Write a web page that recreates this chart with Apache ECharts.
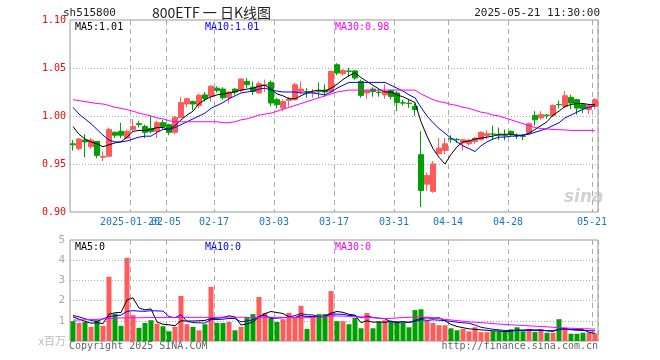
<!DOCTYPE html>
<html><head><meta charset="utf-8">
<script src="https://cdn.jsdelivr.net/npm/echarts@6/dist/echarts.min.js"></script>
<style>html,body{margin:0;padding:0;background:#fff}#c{width:660px;height:360px}</style>
</head><body><div id="c"></div>
<script>
const dates = ['2025-01-06','2025-01-07','2025-01-08','2025-01-09','2025-01-10','2025-01-13','2025-01-14','2025-01-15','2025-01-16','2025-01-17','2025-01-20','2025-01-21','2025-01-22','2025-01-23','2025-01-24','2025-01-27','2025-02-05','2025-02-06','2025-02-07','2025-02-10','2025-02-11','2025-02-12','2025-02-13','2025-02-14','2025-02-17','2025-02-18','2025-02-19','2025-02-20','2025-02-21','2025-02-24','2025-02-25','2025-02-26','2025-02-27','2025-02-28','2025-03-03','2025-03-04','2025-03-05','2025-03-06','2025-03-07','2025-03-10','2025-03-11','2025-03-12','2025-03-13','2025-03-14','2025-03-17','2025-03-18','2025-03-19','2025-03-20','2025-03-21','2025-03-24','2025-03-25','2025-03-26','2025-03-27','2025-03-28','2025-03-31','2025-04-01','2025-04-02','2025-04-03','2025-04-07','2025-04-08','2025-04-09','2025-04-10','2025-04-11','2025-04-14','2025-04-15','2025-04-16','2025-04-17','2025-04-18','2025-04-21','2025-04-22','2025-04-23','2025-04-24','2025-04-25','2025-04-28','2025-04-29','2025-04-30','2025-05-06','2025-05-07','2025-05-08','2025-05-09','2025-05-12','2025-05-13','2025-05-14','2025-05-15','2025-05-16','2025-05-19','2025-05-20','2025-05-21'];

const tickIndex = [10, 16, 24, 34, 44, 54, 63, 73, 87];
const tickText  = ['2025-01-20', '02-05', '02-17', '03-03', '03-17', '03-31', '04-14', '04-28', '05-21'];
const overlapTickIndex = [16];

const opens = [0.971,0.966,0.975,0.968,0.9735,0.957,0.958,0.983,0.984,0.977,
0.986,0.992,0.989,0.987,0.984,0.993,0.991,0.983,0.9985,1.0125,
1.015,1.011,1.022,1.0205,1.029,1.028,1.0194,1.028,1.0267,1.036,
1.030,1.024,1.032,1.035,1.017,1.0083,1.0163,1.017,1.0256,1.0256,
1.0244,1.0258,1.027,1.0256,1.0534,1.044,1.0468,1.047,1.036,1.024,
1.028,1.0248,1.022,1.0267,1.024,1.0137,1.0133,1.010,0.9597,0.929,
0.9215,0.9607,0.964,0.9762,0.9755,0.972,0.971,0.9735,0.9753,0.9795,
0.9813,0.9803,0.9798,0.984,0.9798,0.9791,0.9823,1.0006,0.998,1.0009,
1.0006,1.0121,1.010,1.0194,1.017,1.0118,1.0066,1.010];

const closes = [0.970,0.976,0.973,0.975,0.959,0.958,0.986,0.980,0.980,0.984,
0.989,0.991,0.983,0.984,0.993,0.989,0.983,0.9985,1.014,1.018,
1.0125,1.0215,1.018,1.031,1.0267,1.019,1.025,1.025,1.0385,1.0326,
1.0256,1.0336,1.0326,1.0135,1.0118,1.015,1.0177,1.0326,1.028,1.025,
1.0248,1.0254,1.025,1.0465,1.0448,1.0475,1.0465,1.0396,1.0215,1.0264,
1.0256,1.0246,1.0256,1.0204,1.014,1.0135,1.013,1.0066,0.9225,0.938,
0.950,0.9665,0.971,0.976,0.9753,0.9753,0.9746,0.977,0.983,0.9815,
0.981,0.980,0.9795,0.9805,0.9795,0.9788,0.992,0.996,1.0014,1.0006,
1.011,1.0118,1.0211,1.0135,1.0083,1.0076,1.011,1.017];

const lows = [0.964,0.964,0.957,0.966,0.956,0.953,0.957,0.977,0.977,0.976,
0.984,0.988,0.977,0.982,0.977,0.986,0.980,0.981,0.998,1.009,
1.006,1.008,1.015,1.015,1.0245,1.017,1.013,1.022,1.025,1.029,
1.022,1.0233,1.025,1.010,1.008,1.0048,1.010,1.016,1.0225,1.019,
1.019,1.019,1.020,1.024,1.0426,1.042,1.041,1.038,1.019,1.018,
1.020,1.020,1.018,1.0174,1.005,1.011,1.0085,1.0003,0.905,0.922,
0.920,0.9607,0.960,0.972,0.972,0.964,0.969,0.971,0.9745,0.976,
0.9753,0.975,0.9745,0.9795,0.976,0.975,0.981,0.990,0.9965,0.997,
0.999,1.008,1.008,1.007,1.0014,1.003,1.002,1.007];

const highs = [0.975,0.977,0.981,0.977,0.974,0.963,0.988,0.984,0.993,0.986,
0.997,0.995,0.991,1.000,0.995,0.996,0.992,1.000,1.020,1.019,
1.016,1.0235,1.025,1.032,1.031,1.030,1.026,1.029,1.039,1.0396,
1.036,1.036,1.038,1.037,1.019,1.017,1.020,1.0345,1.036,1.029,
1.028,1.035,1.033,1.0475,1.055,1.049,1.050,1.048,1.038,1.027,
1.030,1.028,1.033,1.027,1.026,1.017,1.017,1.013,0.984,0.941,
0.953,0.977,0.977,0.980,0.977,0.976,0.976,0.978,0.984,0.985,
0.990,0.988,0.986,0.985,0.982,0.981,0.993,1.005,1.005,1.002,
1.012,1.016,1.026,1.022,1.018,1.013,1.0125,1.0188];

const ma5 = [0.989,0.981,0.976,0.973,0.971,0.968,0.970,0.972,0.973,0.978,
0.984,0.985,0.985,0.986,0.988,0.988,0.986,0.990,0.996,1.001,
1.005,1.013,1.017,1.020,1.022,1.023,1.024,1.025,1.027,1.028,
1.029,1.031,1.032,1.028,1.023,1.021,1.018,1.018,1.021,1.024,
1.026,1.027,1.026,1.029,1.033,1.038,1.042,1.045,1.040,1.036,
1.032,1.028,1.025,1.025,1.022,1.020,1.017,1.014,0.994,0.979,
0.966,0.957,0.950,0.960,0.968,0.973,0.974,0.976,0.977,0.978,
0.979,0.981,0.981,0.981,0.980,0.980,0.982,0.986,0.990,0.994,
1.001,1.005,1.010,1.012,1.013,1.013,1.012,1.012];

const ma10 = [1.009,1.002,0.997,0.992,0.986,0.980,0.975,0.973,0.973,0.974,
0.976,0.978,0.979,0.979,0.983,0.986,0.986,0.988,0.991,0.994,
0.997,1.000,1.003,1.008,1.011,1.014,1.018,1.021,1.024,1.025,
1.026,1.028,1.029,1.027,1.026,1.025,1.025,1.025,1.024,1.024,
1.024,1.023,1.022,1.025,1.029,1.032,1.035,1.035,1.035,1.035,
1.035,1.035,1.035,1.032,1.029,1.026,1.022,1.019,1.009,1.000,
0.993,0.987,0.982,0.977,0.973,0.969,0.966,0.963,0.969,0.973,
0.976,0.978,0.978,0.979,0.979,0.980,0.981,0.983,0.985,0.987,
0.990,0.993,0.998,1.001,1.004,1.007,1.009,1.011];

const ma30 = [1.017,1.016,1.015,1.014,1.013,1.0125,1.011,1.009,1.008,1.0066,
1.005,1.003,1.0015,1.000,0.998,0.997,0.995,0.994,0.994,0.994,
0.994,0.994,0.994,0.994,0.994,0.993,0.993,0.994,0.996,0.997,
0.999,1.001,1.002,1.003,1.005,1.007,1.009,1.011,1.013,1.015,
1.017,1.019,1.021,1.023,1.025,1.026,1.027,1.027,1.027,1.027,
1.027,1.027,1.027,1.027,1.027,1.027,1.027,1.027,1.023,1.020,
1.017,1.015,1.014,1.012,1.011,1.009,1.008,1.006,1.004,1.003,
1.001,1.000,0.998,0.996,0.994,0.992,0.990,0.988,0.987,0.9865,
0.986,0.9857,0.9855,0.985,0.985,0.985,0.985,0.9847];

const volumes = [0.98,0.89,0.94,0.70,1.03,0.75,3.18,1.35,0.75,4.12,
1.28,0.65,0.89,1.03,0.86,0.73,0.48,0.70,2.23,0.83,
0.70,0.53,0.83,2.68,0.89,0.89,0.94,0.53,0.70,1.19,
1.33,2.18,1.39,1.19,0.94,1.08,1.39,1.19,1.74,0.60,
1.19,1.33,1.33,2.47,0.98,0.98,0.83,1.15,0.63,1.39,
0.63,0.94,1.03,0.98,0.94,0.91,0.68,1.53,1.57,1.00,
0.89,0.78,0.78,0.63,0.53,0.60,0.48,0.68,0.44,0.44,
0.48,0.48,0.48,0.58,0.68,0.48,0.58,0.44,0.58,0.41,
0.41,1.08,0.61,0.36,0.36,0.41,0.41,0.38];

const vma5 = [1.20,1.08,0.98,0.88,0.91,0.86,1.32,1.40,1.41,2.03,
2.14,1.63,1.54,1.59,0.94,0.83,0.80,0.76,1.00,0.99,
0.99,1.00,1.02,1.11,1.13,1.16,1.25,1.19,0.79,0.85,
0.94,1.19,1.36,1.46,1.41,1.36,1.20,1.16,1.27,1.20,
1.22,1.21,1.24,1.38,1.46,1.42,1.32,1.28,0.91,1.00,
0.93,0.95,0.92,0.99,0.90,0.96,0.91,1.01,1.13,1.14,
1.13,1.15,1.00,0.82,0.72,0.66,0.60,0.58,0.55,0.53,
0.50,0.50,0.46,0.49,0.54,0.54,0.56,0.55,0.55,0.50,
0.48,0.58,0.62,0.57,0.56,0.56,0.43,0.38];

const vma10 = [1.26,1.20,1.10,1.02,0.96,1.10,1.20,1.25,1.28,1.47,
1.50,1.48,1.47,1.50,1.49,1.48,1.21,1.15,1.30,0.97,
0.91,0.90,0.89,1.06,1.06,1.08,1.12,1.11,0.95,0.99,
1.05,1.22,1.27,1.12,1.13,1.15,1.19,1.26,1.36,1.30,
1.29,1.20,1.20,1.33,1.33,1.32,1.26,1.26,1.15,1.23,
1.17,1.13,1.10,0.95,0.95,0.94,0.93,0.97,1.06,1.02,
1.05,1.03,1.01,0.97,0.93,0.90,0.88,0.79,0.68,0.63,
0.58,0.55,0.52,0.52,0.53,0.52,0.53,0.51,0.52,0.52,
0.51,0.57,0.59,0.56,0.53,0.52,0.51,0.50];

const vma30 = [1.03,1.04,1.05,1.06,1.07,1.09,1.11,1.13,1.14,1.15,
1.15,1.15,1.16,1.16,1.16,1.16,1.16,1.16,1.17,1.17,
1.17,1.17,1.17,1.17,1.17,1.18,1.18,1.18,1.18,1.17,
1.15,1.17,1.18,1.18,1.17,1.17,1.16,1.16,1.15,1.15,
1.17,1.19,1.22,1.24,1.24,1.23,1.22,1.20,1.19,1.18,
1.15,1.13,1.11,1.12,1.14,1.16,1.17,1.19,1.19,1.18,
1.15,1.11,1.07,1.04,1.01,0.98,0.95,0.93,0.91,0.89,
0.86,0.84,0.82,0.80,0.78,0.77,0.75,0.73,0.72,0.70,
0.68,0.66,0.65,0.63,0.62,0.61,0.60,0.59];

const UP = '#ff5b5b', DOWN = '#00a000';
const MONO = 'DejaVu Sans Mono';
const GRID_L = 70, GRID_W = 528;

const chart = echarts.init(document.getElementById('c'), null, {renderer: 'canvas'});
const candleData = dates.map((d, i) => [opens[i], closes[i], lows[i], highs[i]]);
const volData = volumes.map((v, i) => ({value: v, itemStyle: {color: closes[i] > opens[i] ? UP : DOWN}}));
const showTick = (idx) => tickIndex.indexOf(idx) >= 0;
const labelText = (idx) => tickText[tickIndex.indexOf(idx)] || '';

const splitX = {show: true, interval: (idx) => showTick(idx), lineStyle: {color: '#aaa', type: [5, 4], width: 1}};
const splitY = {show: true, showMinLine: false, showMaxLine: false, lineStyle: {color: '#aaa', type: [1, 2], width: 1}};
const xLabelStyle = {color: '#1a78c2', fontFamily: MONO, fontSize: 10, margin: 5, padding: [0, 6, 0, 0], hideOverlap: false};

function maLine(name, data, color, xi, yi) {
  return {name, type: 'line', data, xAxisIndex: xi, yAxisIndex: yi, symbol: 'none', smooth: false,
    lineStyle: {color, width: 1}, itemStyle: {color}, z: 5, silent: true};
}

function txt(x, y, text, color, opts) {
  return {type: 'text', x, y, style: Object.assign({text, fill: color, font: '10px "' + MONO + '"', textAlign: 'left', textVerticalAlign: 'middle'}, opts || {})};
}

chart.setOption({
  animation: false,
  backgroundColor: '#fff',
  grid: [
    {left: GRID_L, top: 20, width: GRID_W, height: 192, show: true, borderColor: '#999', borderWidth: 1, backgroundColor: 'transparent'},
    {left: GRID_L, top: 240, width: GRID_W, height: 101, show: true, borderColor: '#999', borderWidth: 1, backgroundColor: 'transparent'}
  ],
  xAxis: [
    {type: 'category', data: dates, gridIndex: 0, boundaryGap: true, position: 'bottom',
      axisLine: {show: false}, axisTick: {show: false},
      axisLabel: Object.assign({show: true, interval: (idx) => showTick(idx) && overlapTickIndex.indexOf(idx) < 0,
        formatter: (v, idx) => labelText(idx)}, xLabelStyle),
      splitLine: splitX},
    {type: 'category', data: dates, gridIndex: 1, boundaryGap: true,
      axisLine: {show: false}, axisTick: {show: false}, axisLabel: {show: false},
      splitLine: splitX},
    {type: 'category', data: dates, gridIndex: 0, boundaryGap: true, position: 'bottom', offset: 0,
      axisLine: {show: false}, axisTick: {show: false},
      axisLabel: Object.assign({show: true, interval: (idx) => overlapTickIndex.indexOf(idx) >= 0,
        formatter: (v, idx) => labelText(idx)}, xLabelStyle),
      splitLine: {show: false}}
  ],
  yAxis: [
    {type: 'value', gridIndex: 0, min: 0.9, max: 1.1, interval: 0.05, scale: false,
      axisLine: {show: false}, axisTick: {show: false},
      axisLabel: {color: '#ff0000', fontFamily: MONO, fontSize: 10, margin: 4, formatter: (v) => v.toFixed(2)},
      splitLine: splitY},
    {type: 'value', gridIndex: 1, min: 0, max: 5, interval: 1,
      axisLine: {show: false}, axisTick: {show: false},
      axisLabel: {color: '#aaa', fontFamily: MONO, fontSize: 11, margin: 5, formatter: (v) => v === 0 ? '' : String(v)},
      splitLine: splitY}
  ],
  series: [
    {name: 'K', type: 'candlestick', data: candleData, xAxisIndex: 0, yAxisIndex: 0, barWidth: 5,
      itemStyle: {color: UP, color0: DOWN, borderColor: UP, borderColor0: DOWN, borderWidth: 1}, z: 3, silent: true},
    maLine('MA5', ma5, '#000000', 0, 0),
    maLine('MA10', ma10, '#0000ff', 0, 0),
    maLine('MA30', ma30, '#ff00ff', 0, 0),
    {name: 'VOL', type: 'bar', data: volData, xAxisIndex: 1, yAxisIndex: 1, barWidth: 5, z: 3, silent: true},
    maLine('VMA5', vma5, '#000000', 1, 1),
    maLine('VMA10', vma10, '#0000ff', 1, 1),
    maLine('VMA30', vma30, '#ff00ff', 1, 1)
  ],
  graphic: [
    txt(63, 13, 'sh515800', '#222', {font: '11px "' + MONO + '"'}),
    txt(152, 13, '800ETF 一 日K线图', '#222', {font: '14px "Noto Sans CJK SC"'}),
    txt(600, 13, '2025-05-21 11:30:00', '#222', {font: '11px "' + MONO + '"', textAlign: 'right'}),
    txt(75, 27, 'MA5:' + ma5[ma5.length - 1].toFixed(2), '#000'),
    txt(205, 27, 'MA10:' + ma10[ma10.length - 1].toFixed(2), '#0000ff'),
    txt(335, 27, 'MA30:' + ma30[ma30.length - 1].toFixed(2), '#ff00ff'),
    txt(75, 247, 'MA5:0', '#000'),
    txt(205, 247, 'MA10:0', '#0000ff'),
    txt(335, 247, 'MA30:0', '#ff00ff'),
    txt(66, 341, 'x百万', '#bbb', {font: '11px "Noto Sans CJK SC"', textAlign: 'right'}),
    txt(69, 346, 'Copyright 2025 SINA.COM', '#666'),
    txt(598, 346, 'http://finance.sina.com.cn', '#666', {textAlign: 'right'}),
    txt(564, 198, 'sina', '#d2d2d2', {font: 'italic bold 17px "DejaVu Sans"'})
  ]
});
</script>
</body></html>
